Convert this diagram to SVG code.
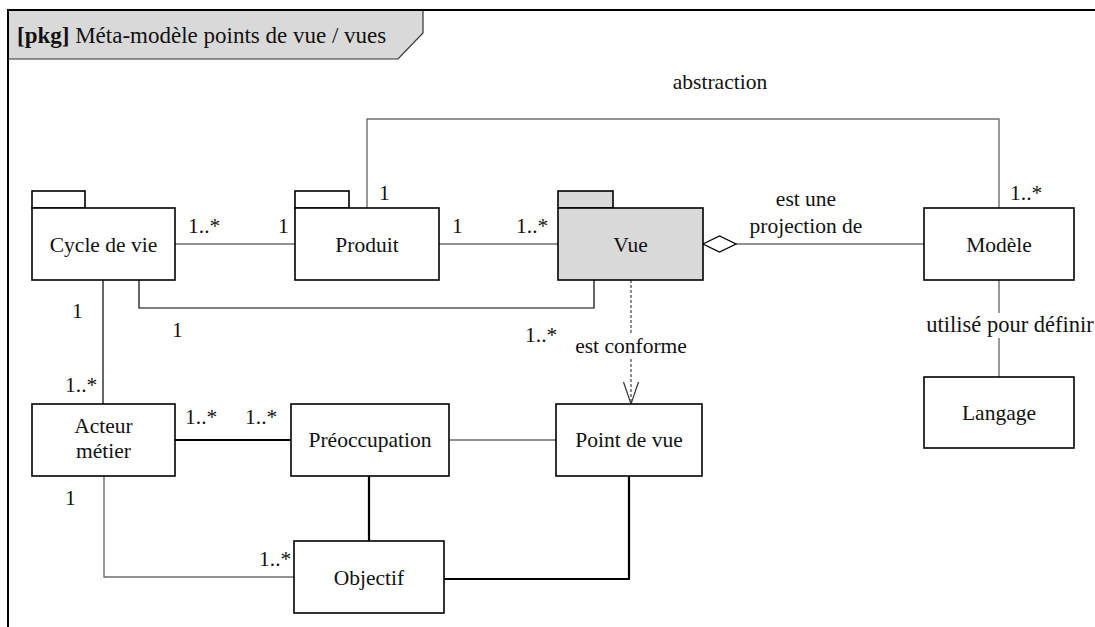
<svg xmlns="http://www.w3.org/2000/svg" width="1095" height="627" viewBox="0 0 1095 627">
<style>
text{font-family:"Liberation Serif","Times New Roman",serif;font-size:21.5px;fill:#111}
.c{text-anchor:middle}
.box{fill:#fff;stroke:#000;stroke-width:1.6}
.gbox{fill:#d9d9d9;stroke:#000;stroke-width:1.6}
.g{fill:none;stroke:#6e6e6e;stroke-width:1.4}
.k{fill:none;stroke:#000;stroke-width:1.2}
.kt{fill:none;stroke:#000;stroke-width:2.2}
</style>
<rect width="1095" height="627" fill="#fff"/>
<g id="frame">
<path d="M8 10 H423 V33 L398 59 H8 Z" fill="#d9d9d9" stroke="#333" stroke-width="1.2"/>
<path d="M8 627 V10 H1095" fill="none" stroke="#000" stroke-width="2"/>
<text x="17" y="43" style="font-size:23px"><tspan font-weight="bold">[pkg]</tspan> Méta-modèle points de vue / vues</text>
</g>
<g id="connectors">
<path class="g" d="M175 244 H295"/>
<path class="g" d="M439 244 H558"/>
<path class="g" d="M367 208 V119 H999 V208"/>
<path class="g" d="M736 244 H924"/>
<path d="M703 244 L719.5 236 L736 244 L719.5 252 Z" fill="#fff" stroke="#000" stroke-width="1.3"/>
<path class="g" d="M999 280 V313 M999 338 V377"/>
<path class="k" d="M139 280 V308 H594 V280"/>
<path class="k" d="M103 280 V404"/>
<path d="M631 280 V335 M631 359 V403" fill="none" stroke="#333" stroke-width="1.1" stroke-dasharray="3,2"/>
<path d="M623.5 382 L631 404 L638.5 382" fill="none" stroke="#333" stroke-width="1.2"/>
<path class="kt" d="M175 440 H291"/>
<path class="g" d="M449 440 H556"/>
<path class="kt" d="M369 476 V541"/>
<path class="g" d="M104 476 V577 H294"/>
<path class="kt" d="M443 579 H629 V476"/>
<text x="720" y="89" class="c">abstraction</text>
<text x="188" y="233">1..*</text>
<text x="278" y="233">1</text>
<text x="379" y="200">1</text>
<text x="452" y="233">1</text>
<text x="516" y="233">1..*</text>
<text x="806" y="206" class="c">est une</text>
<text x="806" y="233" class="c">projection de</text>
<text x="1010" y="200">1..*</text>
<text x="1010" y="332" class="c" style="font-size:22.5px">utilisé pour définir</text>
<text x="72" y="318">1</text>
<text x="172" y="337">1</text>
<text x="525" y="342">1..*</text>
<text x="631" y="353" class="c">est conforme</text>
<text x="65" y="392">1..*</text>
<text x="185" y="424">1..*</text>
<text x="245" y="424">1..*</text>
<text x="65" y="505">1</text>
<text x="259" y="566">1..*</text>
</g>
<g id="cycle">
<rect class="box" x="32" y="191" width="53" height="17"/>
<rect class="box" x="32" y="208" width="143" height="72"/>
<text x="103.5" y="252" class="c">Cycle de vie</text>
</g>
<g id="produit">
<rect class="box" x="295" y="191" width="54" height="17"/>
<rect class="box" x="295" y="208" width="144" height="72"/>
<text x="367" y="252" class="c">Produit</text>
</g>
<g id="vue">
<rect class="gbox" x="558" y="191" width="55" height="17"/>
<rect class="gbox" x="558" y="208" width="145" height="72"/>
<text x="630.5" y="252" class="c">Vue</text>
</g>
<g id="modele">
<rect class="box" x="924" y="208" width="150" height="72"/>
<text x="999" y="252" class="c">Modèle</text>
</g>
<g id="langage">
<rect class="box" x="924" y="377" width="150" height="71"/>
<text x="999" y="420" class="c">Langage</text>
</g>
<g id="acteur">
<rect class="box" x="32" y="404" width="143" height="72"/>
<text x="103.5" y="433" class="c">Acteur</text>
<text x="103.5" y="458" class="c">métier</text>
</g>
<g id="preoccupation">
<rect class="box" x="291" y="404" width="158" height="72"/>
<text x="370" y="447" class="c">Préoccupation</text>
</g>
<g id="pointdevue">
<rect class="box" x="556" y="404" width="146" height="72"/>
<text x="629" y="447" class="c">Point de vue</text>
</g>
<g id="objectif">
<rect class="box" x="294" y="541" width="150" height="72"/>
<text x="369" y="585" class="c">Objectif</text>
</g>
</svg>
